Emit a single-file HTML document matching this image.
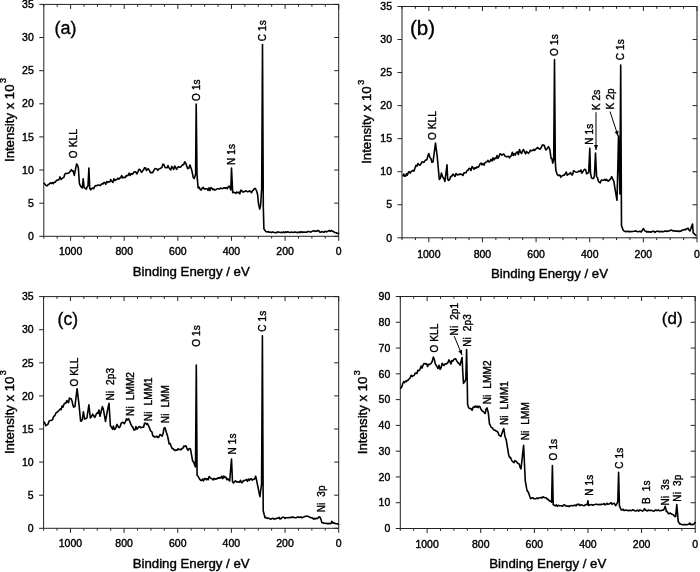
<!DOCTYPE html>
<html><head><meta charset="utf-8"><style>html,body{margin:0;padding:0;background:#fff;} svg{display:block;will-change:transform;filter:blur(0.3px);} text{stroke:#000;stroke-width:0.4px;}</style></head>
<body><svg width="700" height="572" viewBox="0 0 700 572" style="font-family:'Liberation Sans',sans-serif" fill="#000">
<rect width="700" height="572" fill="#fff"/>
<rect x="43.8" y="4.4" width="294.9" height="231.9" fill="none" stroke="#222" stroke-width="1"/>
<line x1="338.70" y1="236.3" x2="338.70" y2="240.8" stroke="#222" stroke-width="1"/>
<line x1="338.70" y1="4.4" x2="338.70" y2="8.9" stroke="#222" stroke-width="1"/>
<text x="338.70" y="254.90" font-size="10.5" text-anchor="middle">0</text>
<line x1="325.30" y1="236.3" x2="325.30" y2="238.60000000000002" stroke="#222" stroke-width="1"/>
<line x1="325.30" y1="4.4" x2="325.30" y2="6.7" stroke="#222" stroke-width="1"/>
<line x1="311.89" y1="236.3" x2="311.89" y2="238.60000000000002" stroke="#222" stroke-width="1"/>
<line x1="311.89" y1="4.4" x2="311.89" y2="6.7" stroke="#222" stroke-width="1"/>
<line x1="298.49" y1="236.3" x2="298.49" y2="238.60000000000002" stroke="#222" stroke-width="1"/>
<line x1="298.49" y1="4.4" x2="298.49" y2="6.7" stroke="#222" stroke-width="1"/>
<line x1="285.08" y1="236.3" x2="285.08" y2="240.8" stroke="#222" stroke-width="1"/>
<line x1="285.08" y1="4.4" x2="285.08" y2="8.9" stroke="#222" stroke-width="1"/>
<text x="285.08" y="254.90" font-size="10.5" text-anchor="middle">200</text>
<line x1="271.68" y1="236.3" x2="271.68" y2="238.60000000000002" stroke="#222" stroke-width="1"/>
<line x1="271.68" y1="4.4" x2="271.68" y2="6.7" stroke="#222" stroke-width="1"/>
<line x1="258.27" y1="236.3" x2="258.27" y2="238.60000000000002" stroke="#222" stroke-width="1"/>
<line x1="258.27" y1="4.4" x2="258.27" y2="6.7" stroke="#222" stroke-width="1"/>
<line x1="244.87" y1="236.3" x2="244.87" y2="238.60000000000002" stroke="#222" stroke-width="1"/>
<line x1="244.87" y1="4.4" x2="244.87" y2="6.7" stroke="#222" stroke-width="1"/>
<line x1="231.46" y1="236.3" x2="231.46" y2="240.8" stroke="#222" stroke-width="1"/>
<line x1="231.46" y1="4.4" x2="231.46" y2="8.9" stroke="#222" stroke-width="1"/>
<text x="231.46" y="254.90" font-size="10.5" text-anchor="middle">400</text>
<line x1="218.06" y1="236.3" x2="218.06" y2="238.60000000000002" stroke="#222" stroke-width="1"/>
<line x1="218.06" y1="4.4" x2="218.06" y2="6.7" stroke="#222" stroke-width="1"/>
<line x1="204.65" y1="236.3" x2="204.65" y2="238.60000000000002" stroke="#222" stroke-width="1"/>
<line x1="204.65" y1="4.4" x2="204.65" y2="6.7" stroke="#222" stroke-width="1"/>
<line x1="191.25" y1="236.3" x2="191.25" y2="238.60000000000002" stroke="#222" stroke-width="1"/>
<line x1="191.25" y1="4.4" x2="191.25" y2="6.7" stroke="#222" stroke-width="1"/>
<line x1="177.85" y1="236.3" x2="177.85" y2="240.8" stroke="#222" stroke-width="1"/>
<line x1="177.85" y1="4.4" x2="177.85" y2="8.9" stroke="#222" stroke-width="1"/>
<text x="177.85" y="254.90" font-size="10.5" text-anchor="middle">600</text>
<line x1="164.44" y1="236.3" x2="164.44" y2="238.60000000000002" stroke="#222" stroke-width="1"/>
<line x1="164.44" y1="4.4" x2="164.44" y2="6.7" stroke="#222" stroke-width="1"/>
<line x1="151.04" y1="236.3" x2="151.04" y2="238.60000000000002" stroke="#222" stroke-width="1"/>
<line x1="151.04" y1="4.4" x2="151.04" y2="6.7" stroke="#222" stroke-width="1"/>
<line x1="137.63" y1="236.3" x2="137.63" y2="238.60000000000002" stroke="#222" stroke-width="1"/>
<line x1="137.63" y1="4.4" x2="137.63" y2="6.7" stroke="#222" stroke-width="1"/>
<line x1="124.23" y1="236.3" x2="124.23" y2="240.8" stroke="#222" stroke-width="1"/>
<line x1="124.23" y1="4.4" x2="124.23" y2="8.9" stroke="#222" stroke-width="1"/>
<text x="124.23" y="254.90" font-size="10.5" text-anchor="middle">800</text>
<line x1="110.82" y1="236.3" x2="110.82" y2="238.60000000000002" stroke="#222" stroke-width="1"/>
<line x1="110.82" y1="4.4" x2="110.82" y2="6.7" stroke="#222" stroke-width="1"/>
<line x1="97.42" y1="236.3" x2="97.42" y2="238.60000000000002" stroke="#222" stroke-width="1"/>
<line x1="97.42" y1="4.4" x2="97.42" y2="6.7" stroke="#222" stroke-width="1"/>
<line x1="84.01" y1="236.3" x2="84.01" y2="238.60000000000002" stroke="#222" stroke-width="1"/>
<line x1="84.01" y1="4.4" x2="84.01" y2="6.7" stroke="#222" stroke-width="1"/>
<line x1="70.61" y1="236.3" x2="70.61" y2="240.8" stroke="#222" stroke-width="1"/>
<line x1="70.61" y1="4.4" x2="70.61" y2="8.9" stroke="#222" stroke-width="1"/>
<text x="70.61" y="254.90" font-size="10.5" text-anchor="middle">1000</text>
<line x1="57.20" y1="236.3" x2="57.20" y2="238.60000000000002" stroke="#222" stroke-width="1"/>
<line x1="57.20" y1="4.4" x2="57.20" y2="6.7" stroke="#222" stroke-width="1"/>
<line x1="43.80" y1="236.3" x2="43.80" y2="238.60000000000002" stroke="#222" stroke-width="1"/>
<line x1="43.80" y1="4.4" x2="43.80" y2="6.7" stroke="#222" stroke-width="1"/>
<line x1="39.3" y1="236.30" x2="43.8" y2="236.30" stroke="#222" stroke-width="1"/>
<line x1="334.2" y1="236.30" x2="338.7" y2="236.30" stroke="#222" stroke-width="1"/>
<text x="33.80" y="240.00" font-size="10.5" text-anchor="end">0</text>
<line x1="39.3" y1="203.17" x2="43.8" y2="203.17" stroke="#222" stroke-width="1"/>
<line x1="334.2" y1="203.17" x2="338.7" y2="203.17" stroke="#222" stroke-width="1"/>
<text x="33.80" y="206.87" font-size="10.5" text-anchor="end">5</text>
<line x1="39.3" y1="170.04" x2="43.8" y2="170.04" stroke="#222" stroke-width="1"/>
<line x1="334.2" y1="170.04" x2="338.7" y2="170.04" stroke="#222" stroke-width="1"/>
<text x="33.80" y="173.74" font-size="10.5" text-anchor="end">10</text>
<line x1="39.3" y1="136.91" x2="43.8" y2="136.91" stroke="#222" stroke-width="1"/>
<line x1="334.2" y1="136.91" x2="338.7" y2="136.91" stroke="#222" stroke-width="1"/>
<text x="33.80" y="140.61" font-size="10.5" text-anchor="end">15</text>
<line x1="39.3" y1="103.79" x2="43.8" y2="103.79" stroke="#222" stroke-width="1"/>
<line x1="334.2" y1="103.79" x2="338.7" y2="103.79" stroke="#222" stroke-width="1"/>
<text x="33.80" y="107.49" font-size="10.5" text-anchor="end">20</text>
<line x1="39.3" y1="70.66" x2="43.8" y2="70.66" stroke="#222" stroke-width="1"/>
<line x1="334.2" y1="70.66" x2="338.7" y2="70.66" stroke="#222" stroke-width="1"/>
<text x="33.80" y="74.36" font-size="10.5" text-anchor="end">25</text>
<line x1="39.3" y1="37.53" x2="43.8" y2="37.53" stroke="#222" stroke-width="1"/>
<line x1="334.2" y1="37.53" x2="338.7" y2="37.53" stroke="#222" stroke-width="1"/>
<text x="33.80" y="41.23" font-size="10.5" text-anchor="end">30</text>
<line x1="39.3" y1="4.40" x2="43.8" y2="4.40" stroke="#222" stroke-width="1"/>
<line x1="334.2" y1="4.40" x2="338.7" y2="4.40" stroke="#222" stroke-width="1"/>
<text x="33.80" y="8.10" font-size="10.5" text-anchor="end">35</text>
<text x="191.25" y="276.00" font-size="13" text-anchor="middle" textLength="117" lengthAdjust="spacingAndGlyphs">Binding Energy / eV</text>
<text transform="translate(13.50,123.25) rotate(-90)" font-size="13" text-anchor="middle" textLength="77.5" lengthAdjust="spacingAndGlyphs">Intensity x 10</text>
<text transform="translate(6.40,83.05) rotate(-90)" font-size="9">3</text>
<rect x="402.0" y="6.5" width="295.0" height="231.3" fill="none" stroke="#222" stroke-width="1"/>
<line x1="697.00" y1="237.8" x2="697.00" y2="242.3" stroke="#222" stroke-width="1"/>
<line x1="697.00" y1="6.5" x2="697.00" y2="11.0" stroke="#222" stroke-width="1"/>
<text x="697.00" y="257.60" font-size="10.5" text-anchor="middle">0</text>
<line x1="683.59" y1="237.8" x2="683.59" y2="240.10000000000002" stroke="#222" stroke-width="1"/>
<line x1="683.59" y1="6.5" x2="683.59" y2="8.8" stroke="#222" stroke-width="1"/>
<line x1="670.18" y1="237.8" x2="670.18" y2="240.10000000000002" stroke="#222" stroke-width="1"/>
<line x1="670.18" y1="6.5" x2="670.18" y2="8.8" stroke="#222" stroke-width="1"/>
<line x1="656.77" y1="237.8" x2="656.77" y2="240.10000000000002" stroke="#222" stroke-width="1"/>
<line x1="656.77" y1="6.5" x2="656.77" y2="8.8" stroke="#222" stroke-width="1"/>
<line x1="643.36" y1="237.8" x2="643.36" y2="242.3" stroke="#222" stroke-width="1"/>
<line x1="643.36" y1="6.5" x2="643.36" y2="11.0" stroke="#222" stroke-width="1"/>
<text x="643.36" y="257.60" font-size="10.5" text-anchor="middle">200</text>
<line x1="629.95" y1="237.8" x2="629.95" y2="240.10000000000002" stroke="#222" stroke-width="1"/>
<line x1="629.95" y1="6.5" x2="629.95" y2="8.8" stroke="#222" stroke-width="1"/>
<line x1="616.55" y1="237.8" x2="616.55" y2="240.10000000000002" stroke="#222" stroke-width="1"/>
<line x1="616.55" y1="6.5" x2="616.55" y2="8.8" stroke="#222" stroke-width="1"/>
<line x1="603.14" y1="237.8" x2="603.14" y2="240.10000000000002" stroke="#222" stroke-width="1"/>
<line x1="603.14" y1="6.5" x2="603.14" y2="8.8" stroke="#222" stroke-width="1"/>
<line x1="589.73" y1="237.8" x2="589.73" y2="242.3" stroke="#222" stroke-width="1"/>
<line x1="589.73" y1="6.5" x2="589.73" y2="11.0" stroke="#222" stroke-width="1"/>
<text x="589.73" y="257.60" font-size="10.5" text-anchor="middle">400</text>
<line x1="576.32" y1="237.8" x2="576.32" y2="240.10000000000002" stroke="#222" stroke-width="1"/>
<line x1="576.32" y1="6.5" x2="576.32" y2="8.8" stroke="#222" stroke-width="1"/>
<line x1="562.91" y1="237.8" x2="562.91" y2="240.10000000000002" stroke="#222" stroke-width="1"/>
<line x1="562.91" y1="6.5" x2="562.91" y2="8.8" stroke="#222" stroke-width="1"/>
<line x1="549.50" y1="237.8" x2="549.50" y2="240.10000000000002" stroke="#222" stroke-width="1"/>
<line x1="549.50" y1="6.5" x2="549.50" y2="8.8" stroke="#222" stroke-width="1"/>
<line x1="536.09" y1="237.8" x2="536.09" y2="242.3" stroke="#222" stroke-width="1"/>
<line x1="536.09" y1="6.5" x2="536.09" y2="11.0" stroke="#222" stroke-width="1"/>
<text x="536.09" y="257.60" font-size="10.5" text-anchor="middle">600</text>
<line x1="522.68" y1="237.8" x2="522.68" y2="240.10000000000002" stroke="#222" stroke-width="1"/>
<line x1="522.68" y1="6.5" x2="522.68" y2="8.8" stroke="#222" stroke-width="1"/>
<line x1="509.27" y1="237.8" x2="509.27" y2="240.10000000000002" stroke="#222" stroke-width="1"/>
<line x1="509.27" y1="6.5" x2="509.27" y2="8.8" stroke="#222" stroke-width="1"/>
<line x1="495.86" y1="237.8" x2="495.86" y2="240.10000000000002" stroke="#222" stroke-width="1"/>
<line x1="495.86" y1="6.5" x2="495.86" y2="8.8" stroke="#222" stroke-width="1"/>
<line x1="482.45" y1="237.8" x2="482.45" y2="242.3" stroke="#222" stroke-width="1"/>
<line x1="482.45" y1="6.5" x2="482.45" y2="11.0" stroke="#222" stroke-width="1"/>
<text x="482.45" y="257.60" font-size="10.5" text-anchor="middle">800</text>
<line x1="469.05" y1="237.8" x2="469.05" y2="240.10000000000002" stroke="#222" stroke-width="1"/>
<line x1="469.05" y1="6.5" x2="469.05" y2="8.8" stroke="#222" stroke-width="1"/>
<line x1="455.64" y1="237.8" x2="455.64" y2="240.10000000000002" stroke="#222" stroke-width="1"/>
<line x1="455.64" y1="6.5" x2="455.64" y2="8.8" stroke="#222" stroke-width="1"/>
<line x1="442.23" y1="237.8" x2="442.23" y2="240.10000000000002" stroke="#222" stroke-width="1"/>
<line x1="442.23" y1="6.5" x2="442.23" y2="8.8" stroke="#222" stroke-width="1"/>
<line x1="428.82" y1="237.8" x2="428.82" y2="242.3" stroke="#222" stroke-width="1"/>
<line x1="428.82" y1="6.5" x2="428.82" y2="11.0" stroke="#222" stroke-width="1"/>
<text x="428.82" y="257.60" font-size="10.5" text-anchor="middle">1000</text>
<line x1="415.41" y1="237.8" x2="415.41" y2="240.10000000000002" stroke="#222" stroke-width="1"/>
<line x1="415.41" y1="6.5" x2="415.41" y2="8.8" stroke="#222" stroke-width="1"/>
<line x1="402.00" y1="237.8" x2="402.00" y2="240.10000000000002" stroke="#222" stroke-width="1"/>
<line x1="402.00" y1="6.5" x2="402.00" y2="8.8" stroke="#222" stroke-width="1"/>
<line x1="397.5" y1="237.80" x2="402.0" y2="237.80" stroke="#222" stroke-width="1"/>
<line x1="692.5" y1="237.80" x2="697.0" y2="237.80" stroke="#222" stroke-width="1"/>
<text x="392.00" y="241.50" font-size="10.5" text-anchor="end">0</text>
<line x1="397.5" y1="204.76" x2="402.0" y2="204.76" stroke="#222" stroke-width="1"/>
<line x1="692.5" y1="204.76" x2="697.0" y2="204.76" stroke="#222" stroke-width="1"/>
<text x="392.00" y="208.46" font-size="10.5" text-anchor="end">5</text>
<line x1="397.5" y1="171.71" x2="402.0" y2="171.71" stroke="#222" stroke-width="1"/>
<line x1="692.5" y1="171.71" x2="697.0" y2="171.71" stroke="#222" stroke-width="1"/>
<text x="392.00" y="175.41" font-size="10.5" text-anchor="end">10</text>
<line x1="397.5" y1="138.67" x2="402.0" y2="138.67" stroke="#222" stroke-width="1"/>
<line x1="692.5" y1="138.67" x2="697.0" y2="138.67" stroke="#222" stroke-width="1"/>
<text x="392.00" y="142.37" font-size="10.5" text-anchor="end">15</text>
<line x1="397.5" y1="105.63" x2="402.0" y2="105.63" stroke="#222" stroke-width="1"/>
<line x1="692.5" y1="105.63" x2="697.0" y2="105.63" stroke="#222" stroke-width="1"/>
<text x="392.00" y="109.33" font-size="10.5" text-anchor="end">20</text>
<line x1="397.5" y1="72.59" x2="402.0" y2="72.59" stroke="#222" stroke-width="1"/>
<line x1="692.5" y1="72.59" x2="697.0" y2="72.59" stroke="#222" stroke-width="1"/>
<text x="392.00" y="76.29" font-size="10.5" text-anchor="end">25</text>
<line x1="397.5" y1="39.54" x2="402.0" y2="39.54" stroke="#222" stroke-width="1"/>
<line x1="692.5" y1="39.54" x2="697.0" y2="39.54" stroke="#222" stroke-width="1"/>
<text x="392.00" y="43.24" font-size="10.5" text-anchor="end">30</text>
<line x1="397.5" y1="6.50" x2="402.0" y2="6.50" stroke="#222" stroke-width="1"/>
<line x1="692.5" y1="6.50" x2="697.0" y2="6.50" stroke="#222" stroke-width="1"/>
<text x="392.00" y="10.20" font-size="10.5" text-anchor="end">35</text>
<text x="549.50" y="277.50" font-size="13" text-anchor="middle" textLength="117" lengthAdjust="spacingAndGlyphs">Binding Energy / eV</text>
<text transform="translate(371.30,125.05) rotate(-90)" font-size="13" text-anchor="middle" textLength="77.5" lengthAdjust="spacingAndGlyphs">Intensity x 10</text>
<text transform="translate(364.20,84.85) rotate(-90)" font-size="9">3</text>
<rect x="43.6" y="296.6" width="295.09999999999997" height="231.69999999999993" fill="none" stroke="#222" stroke-width="1"/>
<line x1="338.70" y1="528.3" x2="338.70" y2="532.8" stroke="#222" stroke-width="1"/>
<line x1="338.70" y1="296.6" x2="338.70" y2="301.1" stroke="#222" stroke-width="1"/>
<text x="338.70" y="547.40" font-size="10.5" text-anchor="middle">0</text>
<line x1="325.29" y1="528.3" x2="325.29" y2="530.5999999999999" stroke="#222" stroke-width="1"/>
<line x1="325.29" y1="296.6" x2="325.29" y2="298.90000000000003" stroke="#222" stroke-width="1"/>
<line x1="311.87" y1="528.3" x2="311.87" y2="530.5999999999999" stroke="#222" stroke-width="1"/>
<line x1="311.87" y1="296.6" x2="311.87" y2="298.90000000000003" stroke="#222" stroke-width="1"/>
<line x1="298.46" y1="528.3" x2="298.46" y2="530.5999999999999" stroke="#222" stroke-width="1"/>
<line x1="298.46" y1="296.6" x2="298.46" y2="298.90000000000003" stroke="#222" stroke-width="1"/>
<line x1="285.05" y1="528.3" x2="285.05" y2="532.8" stroke="#222" stroke-width="1"/>
<line x1="285.05" y1="296.6" x2="285.05" y2="301.1" stroke="#222" stroke-width="1"/>
<text x="285.05" y="547.40" font-size="10.5" text-anchor="middle">200</text>
<line x1="271.63" y1="528.3" x2="271.63" y2="530.5999999999999" stroke="#222" stroke-width="1"/>
<line x1="271.63" y1="296.6" x2="271.63" y2="298.90000000000003" stroke="#222" stroke-width="1"/>
<line x1="258.22" y1="528.3" x2="258.22" y2="530.5999999999999" stroke="#222" stroke-width="1"/>
<line x1="258.22" y1="296.6" x2="258.22" y2="298.90000000000003" stroke="#222" stroke-width="1"/>
<line x1="244.80" y1="528.3" x2="244.80" y2="530.5999999999999" stroke="#222" stroke-width="1"/>
<line x1="244.80" y1="296.6" x2="244.80" y2="298.90000000000003" stroke="#222" stroke-width="1"/>
<line x1="231.39" y1="528.3" x2="231.39" y2="532.8" stroke="#222" stroke-width="1"/>
<line x1="231.39" y1="296.6" x2="231.39" y2="301.1" stroke="#222" stroke-width="1"/>
<text x="231.39" y="547.40" font-size="10.5" text-anchor="middle">400</text>
<line x1="217.98" y1="528.3" x2="217.98" y2="530.5999999999999" stroke="#222" stroke-width="1"/>
<line x1="217.98" y1="296.6" x2="217.98" y2="298.90000000000003" stroke="#222" stroke-width="1"/>
<line x1="204.56" y1="528.3" x2="204.56" y2="530.5999999999999" stroke="#222" stroke-width="1"/>
<line x1="204.56" y1="296.6" x2="204.56" y2="298.90000000000003" stroke="#222" stroke-width="1"/>
<line x1="191.15" y1="528.3" x2="191.15" y2="530.5999999999999" stroke="#222" stroke-width="1"/>
<line x1="191.15" y1="296.6" x2="191.15" y2="298.90000000000003" stroke="#222" stroke-width="1"/>
<line x1="177.74" y1="528.3" x2="177.74" y2="532.8" stroke="#222" stroke-width="1"/>
<line x1="177.74" y1="296.6" x2="177.74" y2="301.1" stroke="#222" stroke-width="1"/>
<text x="177.74" y="547.40" font-size="10.5" text-anchor="middle">600</text>
<line x1="164.32" y1="528.3" x2="164.32" y2="530.5999999999999" stroke="#222" stroke-width="1"/>
<line x1="164.32" y1="296.6" x2="164.32" y2="298.90000000000003" stroke="#222" stroke-width="1"/>
<line x1="150.91" y1="528.3" x2="150.91" y2="530.5999999999999" stroke="#222" stroke-width="1"/>
<line x1="150.91" y1="296.6" x2="150.91" y2="298.90000000000003" stroke="#222" stroke-width="1"/>
<line x1="137.50" y1="528.3" x2="137.50" y2="530.5999999999999" stroke="#222" stroke-width="1"/>
<line x1="137.50" y1="296.6" x2="137.50" y2="298.90000000000003" stroke="#222" stroke-width="1"/>
<line x1="124.08" y1="528.3" x2="124.08" y2="532.8" stroke="#222" stroke-width="1"/>
<line x1="124.08" y1="296.6" x2="124.08" y2="301.1" stroke="#222" stroke-width="1"/>
<text x="124.08" y="547.40" font-size="10.5" text-anchor="middle">800</text>
<line x1="110.67" y1="528.3" x2="110.67" y2="530.5999999999999" stroke="#222" stroke-width="1"/>
<line x1="110.67" y1="296.6" x2="110.67" y2="298.90000000000003" stroke="#222" stroke-width="1"/>
<line x1="97.25" y1="528.3" x2="97.25" y2="530.5999999999999" stroke="#222" stroke-width="1"/>
<line x1="97.25" y1="296.6" x2="97.25" y2="298.90000000000003" stroke="#222" stroke-width="1"/>
<line x1="83.84" y1="528.3" x2="83.84" y2="530.5999999999999" stroke="#222" stroke-width="1"/>
<line x1="83.84" y1="296.6" x2="83.84" y2="298.90000000000003" stroke="#222" stroke-width="1"/>
<line x1="70.43" y1="528.3" x2="70.43" y2="532.8" stroke="#222" stroke-width="1"/>
<line x1="70.43" y1="296.6" x2="70.43" y2="301.1" stroke="#222" stroke-width="1"/>
<text x="70.43" y="547.40" font-size="10.5" text-anchor="middle">1000</text>
<line x1="57.01" y1="528.3" x2="57.01" y2="530.5999999999999" stroke="#222" stroke-width="1"/>
<line x1="57.01" y1="296.6" x2="57.01" y2="298.90000000000003" stroke="#222" stroke-width="1"/>
<line x1="43.60" y1="528.3" x2="43.60" y2="530.5999999999999" stroke="#222" stroke-width="1"/>
<line x1="43.60" y1="296.6" x2="43.60" y2="298.90000000000003" stroke="#222" stroke-width="1"/>
<line x1="39.1" y1="528.30" x2="43.6" y2="528.30" stroke="#222" stroke-width="1"/>
<line x1="334.2" y1="528.30" x2="338.7" y2="528.30" stroke="#222" stroke-width="1"/>
<text x="33.60" y="532.00" font-size="10.5" text-anchor="end">0</text>
<line x1="39.1" y1="495.20" x2="43.6" y2="495.20" stroke="#222" stroke-width="1"/>
<line x1="334.2" y1="495.20" x2="338.7" y2="495.20" stroke="#222" stroke-width="1"/>
<text x="33.60" y="498.90" font-size="10.5" text-anchor="end">5</text>
<line x1="39.1" y1="462.10" x2="43.6" y2="462.10" stroke="#222" stroke-width="1"/>
<line x1="334.2" y1="462.10" x2="338.7" y2="462.10" stroke="#222" stroke-width="1"/>
<text x="33.60" y="465.80" font-size="10.5" text-anchor="end">10</text>
<line x1="39.1" y1="429.00" x2="43.6" y2="429.00" stroke="#222" stroke-width="1"/>
<line x1="334.2" y1="429.00" x2="338.7" y2="429.00" stroke="#222" stroke-width="1"/>
<text x="33.60" y="432.70" font-size="10.5" text-anchor="end">15</text>
<line x1="39.1" y1="395.90" x2="43.6" y2="395.90" stroke="#222" stroke-width="1"/>
<line x1="334.2" y1="395.90" x2="338.7" y2="395.90" stroke="#222" stroke-width="1"/>
<text x="33.60" y="399.60" font-size="10.5" text-anchor="end">20</text>
<line x1="39.1" y1="362.80" x2="43.6" y2="362.80" stroke="#222" stroke-width="1"/>
<line x1="334.2" y1="362.80" x2="338.7" y2="362.80" stroke="#222" stroke-width="1"/>
<text x="33.60" y="366.50" font-size="10.5" text-anchor="end">25</text>
<line x1="39.1" y1="329.70" x2="43.6" y2="329.70" stroke="#222" stroke-width="1"/>
<line x1="334.2" y1="329.70" x2="338.7" y2="329.70" stroke="#222" stroke-width="1"/>
<text x="33.60" y="333.40" font-size="10.5" text-anchor="end">30</text>
<line x1="39.1" y1="296.60" x2="43.6" y2="296.60" stroke="#222" stroke-width="1"/>
<line x1="334.2" y1="296.60" x2="338.7" y2="296.60" stroke="#222" stroke-width="1"/>
<text x="33.60" y="300.30" font-size="10.5" text-anchor="end">35</text>
<text x="191.15" y="568.00" font-size="13" text-anchor="middle" textLength="117" lengthAdjust="spacingAndGlyphs">Binding Energy / eV</text>
<text transform="translate(13.50,415.35) rotate(-90)" font-size="13" text-anchor="middle" textLength="77.5" lengthAdjust="spacingAndGlyphs">Intensity x 10</text>
<text transform="translate(6.40,375.15) rotate(-90)" font-size="9">3</text>
<rect x="400.3" y="296.5" width="294.90000000000003" height="232.0" fill="none" stroke="#222" stroke-width="1"/>
<line x1="695.20" y1="528.5" x2="695.20" y2="533.0" stroke="#222" stroke-width="1"/>
<line x1="695.20" y1="296.5" x2="695.20" y2="301.0" stroke="#222" stroke-width="1"/>
<text x="695.20" y="547.90" font-size="10.5" text-anchor="middle">0</text>
<line x1="681.80" y1="528.5" x2="681.80" y2="530.8" stroke="#222" stroke-width="1"/>
<line x1="681.80" y1="296.5" x2="681.80" y2="298.8" stroke="#222" stroke-width="1"/>
<line x1="668.39" y1="528.5" x2="668.39" y2="530.8" stroke="#222" stroke-width="1"/>
<line x1="668.39" y1="296.5" x2="668.39" y2="298.8" stroke="#222" stroke-width="1"/>
<line x1="654.99" y1="528.5" x2="654.99" y2="530.8" stroke="#222" stroke-width="1"/>
<line x1="654.99" y1="296.5" x2="654.99" y2="298.8" stroke="#222" stroke-width="1"/>
<line x1="641.58" y1="528.5" x2="641.58" y2="533.0" stroke="#222" stroke-width="1"/>
<line x1="641.58" y1="296.5" x2="641.58" y2="301.0" stroke="#222" stroke-width="1"/>
<text x="641.58" y="547.90" font-size="10.5" text-anchor="middle">200</text>
<line x1="628.18" y1="528.5" x2="628.18" y2="530.8" stroke="#222" stroke-width="1"/>
<line x1="628.18" y1="296.5" x2="628.18" y2="298.8" stroke="#222" stroke-width="1"/>
<line x1="614.77" y1="528.5" x2="614.77" y2="530.8" stroke="#222" stroke-width="1"/>
<line x1="614.77" y1="296.5" x2="614.77" y2="298.8" stroke="#222" stroke-width="1"/>
<line x1="601.37" y1="528.5" x2="601.37" y2="530.8" stroke="#222" stroke-width="1"/>
<line x1="601.37" y1="296.5" x2="601.37" y2="298.8" stroke="#222" stroke-width="1"/>
<line x1="587.96" y1="528.5" x2="587.96" y2="533.0" stroke="#222" stroke-width="1"/>
<line x1="587.96" y1="296.5" x2="587.96" y2="301.0" stroke="#222" stroke-width="1"/>
<text x="587.96" y="547.90" font-size="10.5" text-anchor="middle">400</text>
<line x1="574.56" y1="528.5" x2="574.56" y2="530.8" stroke="#222" stroke-width="1"/>
<line x1="574.56" y1="296.5" x2="574.56" y2="298.8" stroke="#222" stroke-width="1"/>
<line x1="561.15" y1="528.5" x2="561.15" y2="530.8" stroke="#222" stroke-width="1"/>
<line x1="561.15" y1="296.5" x2="561.15" y2="298.8" stroke="#222" stroke-width="1"/>
<line x1="547.75" y1="528.5" x2="547.75" y2="530.8" stroke="#222" stroke-width="1"/>
<line x1="547.75" y1="296.5" x2="547.75" y2="298.8" stroke="#222" stroke-width="1"/>
<line x1="534.35" y1="528.5" x2="534.35" y2="533.0" stroke="#222" stroke-width="1"/>
<line x1="534.35" y1="296.5" x2="534.35" y2="301.0" stroke="#222" stroke-width="1"/>
<text x="534.35" y="547.90" font-size="10.5" text-anchor="middle">600</text>
<line x1="520.94" y1="528.5" x2="520.94" y2="530.8" stroke="#222" stroke-width="1"/>
<line x1="520.94" y1="296.5" x2="520.94" y2="298.8" stroke="#222" stroke-width="1"/>
<line x1="507.54" y1="528.5" x2="507.54" y2="530.8" stroke="#222" stroke-width="1"/>
<line x1="507.54" y1="296.5" x2="507.54" y2="298.8" stroke="#222" stroke-width="1"/>
<line x1="494.13" y1="528.5" x2="494.13" y2="530.8" stroke="#222" stroke-width="1"/>
<line x1="494.13" y1="296.5" x2="494.13" y2="298.8" stroke="#222" stroke-width="1"/>
<line x1="480.73" y1="528.5" x2="480.73" y2="533.0" stroke="#222" stroke-width="1"/>
<line x1="480.73" y1="296.5" x2="480.73" y2="301.0" stroke="#222" stroke-width="1"/>
<text x="480.73" y="547.90" font-size="10.5" text-anchor="middle">800</text>
<line x1="467.32" y1="528.5" x2="467.32" y2="530.8" stroke="#222" stroke-width="1"/>
<line x1="467.32" y1="296.5" x2="467.32" y2="298.8" stroke="#222" stroke-width="1"/>
<line x1="453.92" y1="528.5" x2="453.92" y2="530.8" stroke="#222" stroke-width="1"/>
<line x1="453.92" y1="296.5" x2="453.92" y2="298.8" stroke="#222" stroke-width="1"/>
<line x1="440.51" y1="528.5" x2="440.51" y2="530.8" stroke="#222" stroke-width="1"/>
<line x1="440.51" y1="296.5" x2="440.51" y2="298.8" stroke="#222" stroke-width="1"/>
<line x1="427.11" y1="528.5" x2="427.11" y2="533.0" stroke="#222" stroke-width="1"/>
<line x1="427.11" y1="296.5" x2="427.11" y2="301.0" stroke="#222" stroke-width="1"/>
<text x="427.11" y="547.90" font-size="10.5" text-anchor="middle">1000</text>
<line x1="413.70" y1="528.5" x2="413.70" y2="530.8" stroke="#222" stroke-width="1"/>
<line x1="413.70" y1="296.5" x2="413.70" y2="298.8" stroke="#222" stroke-width="1"/>
<line x1="400.30" y1="528.5" x2="400.30" y2="530.8" stroke="#222" stroke-width="1"/>
<line x1="400.30" y1="296.5" x2="400.30" y2="298.8" stroke="#222" stroke-width="1"/>
<line x1="395.8" y1="528.50" x2="400.3" y2="528.50" stroke="#222" stroke-width="1"/>
<line x1="690.7" y1="528.50" x2="695.2" y2="528.50" stroke="#222" stroke-width="1"/>
<text x="390.30" y="532.20" font-size="10.5" text-anchor="end">0</text>
<line x1="395.8" y1="502.72" x2="400.3" y2="502.72" stroke="#222" stroke-width="1"/>
<line x1="690.7" y1="502.72" x2="695.2" y2="502.72" stroke="#222" stroke-width="1"/>
<text x="390.30" y="506.42" font-size="10.5" text-anchor="end">10</text>
<line x1="395.8" y1="476.94" x2="400.3" y2="476.94" stroke="#222" stroke-width="1"/>
<line x1="690.7" y1="476.94" x2="695.2" y2="476.94" stroke="#222" stroke-width="1"/>
<text x="390.30" y="480.64" font-size="10.5" text-anchor="end">20</text>
<line x1="395.8" y1="451.17" x2="400.3" y2="451.17" stroke="#222" stroke-width="1"/>
<line x1="690.7" y1="451.17" x2="695.2" y2="451.17" stroke="#222" stroke-width="1"/>
<text x="390.30" y="454.87" font-size="10.5" text-anchor="end">30</text>
<line x1="395.8" y1="425.39" x2="400.3" y2="425.39" stroke="#222" stroke-width="1"/>
<line x1="690.7" y1="425.39" x2="695.2" y2="425.39" stroke="#222" stroke-width="1"/>
<text x="390.30" y="429.09" font-size="10.5" text-anchor="end">40</text>
<line x1="395.8" y1="399.61" x2="400.3" y2="399.61" stroke="#222" stroke-width="1"/>
<line x1="690.7" y1="399.61" x2="695.2" y2="399.61" stroke="#222" stroke-width="1"/>
<text x="390.30" y="403.31" font-size="10.5" text-anchor="end">50</text>
<line x1="395.8" y1="373.83" x2="400.3" y2="373.83" stroke="#222" stroke-width="1"/>
<line x1="690.7" y1="373.83" x2="695.2" y2="373.83" stroke="#222" stroke-width="1"/>
<text x="390.30" y="377.53" font-size="10.5" text-anchor="end">60</text>
<line x1="395.8" y1="348.06" x2="400.3" y2="348.06" stroke="#222" stroke-width="1"/>
<line x1="690.7" y1="348.06" x2="695.2" y2="348.06" stroke="#222" stroke-width="1"/>
<text x="390.30" y="351.76" font-size="10.5" text-anchor="end">70</text>
<line x1="395.8" y1="322.28" x2="400.3" y2="322.28" stroke="#222" stroke-width="1"/>
<line x1="690.7" y1="322.28" x2="695.2" y2="322.28" stroke="#222" stroke-width="1"/>
<text x="390.30" y="325.98" font-size="10.5" text-anchor="end">80</text>
<line x1="395.8" y1="296.50" x2="400.3" y2="296.50" stroke="#222" stroke-width="1"/>
<line x1="690.7" y1="296.50" x2="695.2" y2="296.50" stroke="#222" stroke-width="1"/>
<text x="390.30" y="300.20" font-size="10.5" text-anchor="end">90</text>
<text x="547.75" y="568.20" font-size="13" text-anchor="middle" textLength="117" lengthAdjust="spacingAndGlyphs">Binding Energy / eV</text>
<text transform="translate(367.00,415.40) rotate(-90)" font-size="13" text-anchor="middle" textLength="77.5" lengthAdjust="spacingAndGlyphs">Intensity x 10</text>
<text transform="translate(359.90,375.20) rotate(-90)" font-size="9">3</text>
<polyline points="44.0,183.4 45.1,184.3 46.3,185.7 47.3,185.8 48.3,184.5 49.4,184.0 50.4,182.8 51.4,183.4 52.4,182.6 53.3,183.6 54.2,182.2 55.2,182.3 56.1,180.9 57.1,180.0 58.1,180.1 59.0,179.5 60.0,176.9 61.0,179.5 61.9,178.7 62.9,177.7 63.8,177.5 64.8,174.2 65.8,173.4 66.7,173.5 67.6,173.3 68.6,173.1 69.5,172.4 70.5,170.8 71.4,169.7 72.2,171.0 73.1,170.9 74.3,175.4 75.4,169.7 76.6,164.0 77.4,164.9 78.3,167.4 79.4,183.4 80.2,185.5 81.1,186.9 82.3,188.0 83.2,178.9 84.0,186.9 85.2,188.4 86.3,189.1 87.2,186.7 88.0,185.7 88.9,168.0 89.7,188.0 90.7,189.8 91.6,188.6 92.6,188.0 93.7,188.7 94.8,186.2 96.0,185.5 97.1,185.7 98.1,185.0 99.0,185.0 100.0,185.6 101.0,184.8 101.9,183.8 102.9,184.0 103.9,182.5 104.8,182.6 105.8,184.3 106.7,181.5 107.6,182.4 108.6,181.7 109.7,182.0 110.7,179.6 111.8,181.2 112.9,182.4 113.9,178.8 115.0,180.5 116.0,179.7 116.9,179.4 117.8,178.1 118.8,179.2 119.8,178.1 120.7,177.7 121.7,175.5 122.6,177.9 123.6,177.4 124.5,177.3 125.5,177.5 126.4,175.4 127.4,175.7 128.3,175.2 129.2,173.2 130.2,175.4 131.2,173.7 132.1,174.3 133.1,173.4 134.0,172.0 135.0,171.9 136.0,172.1 136.9,174.0 137.9,172.0 138.8,169.6 139.8,169.4 140.8,171.2 141.7,172.3 142.7,170.8 143.6,169.7 144.6,167.7 145.5,167.8 146.4,170.5 147.4,169.2 148.4,168.8 149.3,170.3 150.4,172.7 151.6,172.6 152.7,172.7 153.9,170.1 155.0,168.6 155.9,168.8 156.9,169.0 157.8,170.4 158.8,169.0 159.8,168.8 160.7,168.0 161.8,167.8 163.0,164.0 164.1,165.1 165.1,167.5 166.0,167.7 167.0,167.8 168.0,165.6 168.9,167.6 169.9,169.1 170.8,169.9 171.8,166.4 172.8,168.0 173.7,169.3 174.7,166.0 175.6,167.4 176.6,169.3 177.5,167.8 178.4,166.7 179.4,167.1 180.4,167.3 181.3,166.3 182.4,164.9 183.6,164.8 184.7,161.7 185.7,163.1 186.6,165.8 187.6,168.6 188.8,168.2 189.9,165.1 190.8,167.4 191.6,169.7 193.3,177.7 194.2,178.5 195.6,174.6 196.2,104.0 197.0,174.6 198.1,188.0 199.1,187.2 200.1,189.4 201.1,190.1 202.2,188.2 203.2,187.3 204.2,189.0 205.2,188.9 206.1,188.8 207.1,188.7 208.0,190.5 209.0,187.9 210.0,190.4 210.9,187.6 211.9,188.1 212.8,189.7 213.8,189.0 214.8,190.1 215.7,189.7 216.7,189.1 217.7,188.8 218.7,188.7 219.6,189.0 220.6,188.1 221.6,188.5 222.5,188.7 223.5,188.0 224.4,187.7 225.4,188.2 226.3,187.7 227.3,188.6 228.2,186.9 229.2,186.2 230.0,187.6 230.8,190.0 231.5,168.0 232.7,192.6 233.7,192.2 234.7,192.5 235.8,193.4 236.8,192.0 237.8,192.8 238.8,192.3 239.8,193.8 240.7,190.3 241.7,190.6 242.7,191.9 243.6,191.9 244.6,191.6 245.5,190.7 246.5,191.0 247.5,191.8 248.5,191.5 249.5,190.8 250.5,191.5 251.5,192.7 252.6,190.7 253.6,189.8 254.5,188.6 255.4,188.5 256.6,191.0 257.6,194.4 258.4,203.0 259.7,209.1 260.6,205.5 261.7,188.3 262.5,44.5 263.3,206.7 263.9,228.7 264.9,230.2 265.8,231.7 266.7,231.8 267.6,232.0 268.5,231.6 269.4,232.3 270.4,232.1 271.4,232.6 272.5,231.9 273.5,232.3 274.5,232.6 275.5,232.6 276.6,232.8 277.6,231.8 278.6,232.2 279.6,232.2 280.7,232.5 281.7,232.3 282.7,232.6 283.7,231.8 284.8,232.6 285.8,231.8 286.8,232.4 287.8,231.7 288.9,232.2 289.9,232.6 290.9,232.1 291.9,232.2 293.0,232.4 294.0,232.2 295.0,232.1 296.0,232.1 297.0,232.6 298.0,232.4 299.0,232.0 300.0,232.6 301.0,231.7 302.0,232.4 303.0,232.0 304.0,232.1 305.0,232.3 306.0,232.1 307.0,232.2 308.0,231.5 309.0,231.5 310.0,232.0 311.0,232.0 312.0,231.3 313.0,231.0 314.0,230.7 315.0,231.5 316.0,231.1 317.0,231.2 318.0,230.4 319.0,231.0 320.0,232.3 321.0,232.1 322.1,231.6 323.1,232.1 324.1,232.2 325.2,231.2 326.2,231.9 327.3,231.6 328.3,231.0 329.3,230.3 330.4,231.3 331.4,230.6 332.3,231.0 333.1,231.3 334.0,232.0 335.1,232.5 336.2,232.8 337.4,233.5 338.5,233.4" fill="none" stroke="#000" stroke-width="1.6" stroke-linejoin="round" stroke-linecap="round"/>
<polyline points="402.9,175.9 403.8,174.1 404.6,176.3 405.5,176.2 406.4,173.8 407.3,175.2 408.3,172.6 409.2,171.5 410.1,173.2 411.1,171.6 412.0,171.0 413.0,170.3 414.0,171.1 415.0,168.0 416.0,165.3 417.0,166.1 418.0,163.5 419.0,164.8 420.0,165.2 421.0,163.8 422.0,161.9 423.0,162.0 424.0,162.4 425.0,160.7 426.0,159.9 426.9,159.7 427.9,155.6 428.8,153.6 429.9,157.5 430.9,158.5 431.9,162.3 433.0,162.0 435.5,143.1 437.2,156.4 439.3,179.4 440.4,178.2 441.4,173.1 442.8,177.3 443.9,178.6 444.9,181.5 447.0,164.8 447.7,179.4 448.7,180.5 449.7,179.4 450.8,176.4 451.9,176.0 452.9,174.2 454.0,175.2 455.0,176.4 456.0,173.5 457.0,174.9 458.0,174.6 459.0,174.7 460.0,173.9 461.0,174.5 462.0,174.2 463.0,175.4 464.0,172.8 465.0,172.8 466.0,172.8 467.0,170.6 468.0,170.3 469.0,168.3 470.0,168.8 471.0,170.5 472.0,166.6 473.0,167.6 474.0,169.3 475.0,167.6 476.0,168.2 477.0,166.8 478.0,167.5 479.0,166.2 480.0,164.0 481.0,163.1 482.0,164.8 483.0,163.5 484.0,165.2 485.0,162.8 486.0,162.0 487.0,161.7 488.0,160.3 489.0,162.0 490.0,161.3 491.0,159.4 492.0,161.0 493.0,157.7 494.0,160.0 495.0,158.1 496.0,158.5 497.0,155.6 498.0,158.3 499.0,156.3 500.0,153.8 501.0,154.3 502.0,155.3 503.0,154.3 503.9,154.0 504.9,156.1 505.8,156.4 506.7,156.7 507.7,156.5 508.6,156.4 509.5,157.8 510.5,156.4 511.4,155.6 512.3,152.2 513.3,155.4 514.2,153.6 515.2,155.1 516.3,152.5 517.4,151.9 518.4,154.6 519.5,149.5 520.5,152.2 521.6,153.5 522.6,150.8 523.6,149.6 524.6,152.2 525.6,153.8 526.5,151.4 527.5,152.6 528.5,153.3 529.5,152.2 530.5,150.2 531.6,150.7 532.7,150.5 533.7,149.4 534.6,150.5 535.6,149.1 536.5,148.8 537.4,147.4 538.4,148.3 539.3,148.7 540.3,149.2 541.4,147.1 542.5,144.8 543.5,145.2 544.2,145.3 545.0,147.9 545.9,150.0 546.8,149.0 547.6,147.9 548.5,146.6 549.8,149.6 551.1,158.4 551.9,158.6 552.7,163.2 553.7,160.1 554.5,59.6 555.3,161.9 555.9,170.6 557.2,174.5 558.1,175.4 559.0,175.4 559.9,175.0 560.8,177.3 561.6,176.1 562.5,175.8 563.4,175.1 564.2,175.3 565.1,174.1 566.2,172.0 567.3,175.2 568.4,174.2 569.5,173.7 570.5,172.5 571.5,174.8 572.5,174.9 573.6,170.7 574.6,171.4 575.6,171.9 576.7,172.2 577.8,171.9 578.9,171.1 580.0,171.5 580.9,170.0 581.8,173.1 582.6,172.2 583.5,170.6 584.5,169.4 585.6,169.6 586.6,173.7 587.7,173.2 588.7,172.3 589.8,148.3 590.5,173.2 591.5,177.9 592.6,178.5 593.5,178.4 594.4,176.3 595.5,153.1 596.6,176.7 597.5,177.8 598.3,181.1 599.3,182.3 600.3,182.8 601.4,180.0 602.5,180.2 603.6,180.1 604.7,179.3 605.6,180.4 606.5,179.3 607.3,180.5 608.2,181.1 609.1,180.5 610.0,179.4 610.8,178.6 611.7,176.7 612.8,179.2 613.8,181.1 615.6,192.4 617.0,200.3 617.8,168.0 618.5,136.0 619.9,194.0 620.7,65.0 621.5,225.7 622.3,227.7 623.1,230.0 624.0,230.9 624.8,231.2 625.7,231.8 626.7,231.4 627.8,231.4 628.8,231.6 629.8,231.5 630.9,231.6 631.9,231.5 632.9,231.5 634.0,231.3 635.0,231.3 636.0,230.8 637.0,231.5 638.0,231.7 639.0,231.5 640.0,231.3 641.2,232.0 642.4,230.2 643.5,228.5 644.2,229.9 645.0,231.0 646.0,231.2 647.0,232.2 648.0,231.5 649.0,232.1 650.0,231.7 651.0,232.3 652.0,231.5 653.0,231.3 654.0,231.4 655.0,232.4 656.0,231.6 657.0,231.1 658.0,231.3 659.0,231.8 660.0,231.5 661.0,231.6 662.0,231.4 663.0,231.8 664.0,231.4 665.0,231.0 666.0,231.1 667.0,231.5 668.0,231.1 669.0,231.0 670.0,230.5 671.0,230.1 672.0,230.5 673.0,231.0 674.0,230.6 675.0,231.2 676.0,231.0 677.0,231.2 678.0,230.8 679.0,231.6 680.0,231.0 681.1,231.1 682.2,230.2 683.4,229.9 684.5,229.5 685.4,229.9 686.2,228.7 687.1,228.9 688.0,228.2 689.0,230.0 690.0,231.0 691.2,227.5 692.5,224.0 693.2,233.0 694.1,233.5 695.1,234.7 696.0,235.5" fill="none" stroke="#000" stroke-width="1.6" stroke-linejoin="round" stroke-linecap="round"/>
<polyline points="44.0,422.0 45.0,423.5 45.9,425.7 46.9,424.9 48.0,424.2 49.1,420.9 50.2,420.6 51.4,420.3 52.5,419.7 53.7,416.3 54.9,415.5 56.0,412.9 57.1,412.3 58.3,411.1 59.4,410.0 60.3,408.9 61.1,409.6 62.0,406.1 62.9,407.1 64.0,404.1 65.1,403.1 66.0,403.0 66.8,400.5 67.7,402.0 68.6,402.6 69.4,398.0 70.3,398.6 71.2,398.7 72.0,400.9 72.8,404.9 73.7,407.1 74.9,406.6 77.1,388.7 78.9,403.7 80.6,420.9 81.4,421.2 82.3,419.7 83.4,411.7 84.6,419.1 85.8,418.5 86.9,418.0 88.9,404.9 90.3,418.0 91.4,416.9 92.6,414.2 93.7,415.7 94.8,417.4 96.0,414.7 97.1,412.9 98.0,413.2 98.9,410.0 100.0,416.3 102.3,406.6 103.2,408.3 104.0,412.9 105.5,421.5 107.6,409.7 109.0,403.4 110.4,425.7 111.5,427.2 112.5,429.2 113.4,426.1 114.2,429.4 115.1,429.1 116.0,427.1 117.0,424.4 118.1,426.7 119.2,427.6 120.2,426.4 121.2,423.1 122.3,422.4 123.4,422.6 124.4,423.6 125.5,421.4 126.5,418.9 127.5,420.0 128.6,418.7 129.7,421.2 130.7,423.9 131.8,426.1 132.8,427.1 133.9,430.0 134.9,430.0 135.9,426.6 137.0,429.2 137.9,428.1 138.9,426.8 139.8,426.5 140.7,427.7 141.7,427.5 142.6,427.1 143.6,427.2 144.5,423.2 145.5,423.0 146.4,424.3 147.4,423.6 148.3,425.4 149.3,427.3 150.2,429.9 151.1,431.4 151.9,431.9 152.8,435.7 153.7,436.2 154.8,437.1 155.8,436.8 156.8,436.2 157.9,437.6 158.9,437.0 160.0,434.5 161.1,435.1 162.1,436.2 163.1,433.4 164.0,428.1 165.0,427.6 165.9,430.8 166.7,433.6 167.6,436.2 169.2,444.0 170.2,443.6 171.3,446.8 172.3,448.7 173.2,448.6 174.2,450.0 175.1,450.5 176.1,449.9 177.0,450.3 177.9,448.8 178.9,449.5 179.8,449.2 180.8,450.0 181.7,448.7 182.8,448.3 183.8,446.1 184.9,446.4 185.9,445.8 187.0,448.5 188.0,450.3 189.2,448.5 190.4,448.7 192.7,461.3 193.6,461.7 194.6,464.8 195.5,466.8 196.3,365.0 197.1,475.5 198.3,476.5 199.4,478.8 200.6,480.2 201.5,480.5 202.5,479.1 203.4,481.0 204.4,478.6 205.3,478.6 206.3,479.8 207.2,478.6 208.2,479.7 209.2,476.5 210.1,477.5 211.1,478.5 212.1,478.8 213.1,479.9 214.0,478.4 215.0,479.4 216.0,478.8 216.9,478.9 217.9,477.8 218.9,478.3 219.9,477.4 220.9,478.1 221.9,476.2 222.8,478.6 223.8,476.1 224.8,477.4 225.8,477.0 226.8,479.8 227.8,478.7 228.7,479.9 229.7,480.9 231.5,459.0 232.5,481.7 233.5,482.9 234.5,481.7 235.6,480.8 236.6,482.0 237.6,481.7 238.6,482.1 239.6,482.1 240.5,480.3 241.5,482.7 242.5,482.5 243.4,480.5 244.4,480.6 245.4,480.1 246.4,479.5 247.4,481.4 248.4,479.0 249.4,480.4 250.3,479.1 251.3,478.7 252.3,480.2 253.3,479.3 254.5,479.2 255.7,476.2 258.0,487.2 259.9,496.6 261.6,484.0 262.4,335.7 263.2,510.8 264.1,514.3 265.1,517.8 266.1,517.6 267.1,518.4 268.1,518.1 269.2,518.4 270.2,519.1 271.2,519.0 272.2,518.6 273.2,518.3 274.2,519.3 275.1,518.5 276.1,518.8 277.1,518.0 278.1,518.3 279.1,517.4 280.0,519.0 281.0,518.8 282.0,517.5 283.0,517.3 284.0,517.2 285.0,518.5 285.9,517.7 286.9,517.8 287.9,517.8 288.9,517.6 289.9,517.7 290.9,517.1 291.9,517.6 292.9,516.9 293.9,517.5 295.0,517.7 296.0,517.7 297.0,517.3 298.0,516.9 299.0,517.4 300.0,517.3 301.0,516.9 302.0,517.9 303.0,517.4 303.9,516.8 304.9,516.5 305.9,516.3 306.9,516.1 307.9,516.5 308.9,516.6 309.9,517.3 310.8,517.7 311.8,517.7 312.8,518.3 313.8,519.1 314.7,518.3 315.7,518.9 316.8,518.2 317.8,518.4 318.9,516.9 319.9,517.1 320.8,518.9 322.0,522.8 322.9,522.7 323.8,523.1 324.8,523.3 325.7,523.5 326.6,523.4 327.5,523.6 328.5,523.6 329.4,523.4 330.4,523.6 331.4,523.2 331.8,521.2 333.0,523.2 333.9,522.8 334.8,523.3 335.8,523.8 336.7,523.7 337.6,523.9 338.5,524.4" fill="none" stroke="#000" stroke-width="1.6" stroke-linejoin="round" stroke-linecap="round"/>
<polyline points="400.7,388.4 401.8,386.8 402.8,383.5 403.7,381.7 404.6,382.7 405.5,381.0 406.4,381.6 407.2,380.4 408.1,380.2 409.0,379.0 410.1,378.0 411.1,375.3 412.1,376.5 413.2,375.7 414.1,375.5 415.1,373.3 416.0,373.1 416.9,373.5 417.9,370.3 418.8,370.8 420.0,369.4 421.1,366.1 422.1,368.1 423.0,365.2 423.9,363.6 424.8,363.6 425.7,364.0 426.6,363.7 427.6,366.5 428.5,364.3 429.7,364.4 430.9,363.6 432.1,361.7 433.4,357.0 434.3,359.2 435.2,363.6 436.1,365.2 437.1,366.9 438.0,368.5 439.0,365.3 440.1,369.2 441.1,367.7 442.2,363.2 443.2,364.9 444.2,365.5 445.1,363.7 446.1,364.1 447.0,363.5 448.0,362.4 449.0,359.9 450.0,361.6 450.9,364.0 451.9,360.6 452.9,361.2 453.8,359.5 454.8,358.8 455.7,358.9 456.6,360.6 457.9,362.6 459.1,363.6 460.0,365.2 460.9,361.8 462.1,357.5 462.8,372.2 463.5,383.4 464.6,381.9 465.8,379.2 466.6,349.6 467.2,380.0 467.6,404.3 468.7,407.9 469.9,408.6 471.1,408.6 472.1,410.3 473.2,407.1 474.2,407.3 475.2,406.0 476.2,407.2 477.2,406.1 478.1,407.6 479.0,406.3 480.0,406.9 480.9,409.2 482.1,410.8 483.4,411.6 484.3,412.9 485.2,413.5 486.1,409.0 487.0,407.9 488.3,412.8 489.5,423.9 490.4,425.5 491.3,427.5 492.3,427.7 493.4,429.7 494.4,430.0 495.3,430.5 496.2,431.1 497.1,431.4 498.0,432.4 499.0,435.3 500.0,435.7 500.9,436.4 501.7,434.0 502.8,430.9 503.8,428.7 505.0,436.7 506.1,439.2 508.7,455.0 509.6,457.4 510.5,457.3 511.3,459.6 512.2,461.1 513.1,461.8 514.0,462.6 514.8,460.7 515.7,461.1 516.6,461.9 517.5,463.0 518.4,463.7 519.3,464.1 520.1,467.2 521.0,469.0 523.6,445.3 525.3,481.2 527.1,490.8 528.0,491.6 528.8,493.4 529.7,496.3 530.6,498.7 531.7,498.0 532.8,497.7 533.9,498.7 535.0,498.7 536.0,498.7 537.1,498.0 538.1,498.7 539.2,497.8 540.2,497.8 541.2,497.4 542.2,498.1 543.2,496.8 544.3,497.4 545.3,497.8 546.3,497.8 547.2,499.2 548.1,499.4 549.0,500.4 549.9,501.2 550.7,501.2 551.6,502.2 552.4,465.5 553.2,504.8 554.2,505.1 555.3,506.0 556.3,504.9 557.3,506.3 558.4,505.2 559.4,505.7 560.4,505.7 561.5,505.8 562.5,506.3 563.6,505.0 564.6,504.8 565.7,506.0 566.8,506.1 567.8,506.1 568.9,506.6 569.9,505.7 570.9,505.7 571.9,505.6 573.0,505.8 574.0,505.4 575.0,505.0 576.0,505.9 577.0,504.3 578.0,504.8 579.0,504.1 580.0,505.5 581.0,504.8 582.0,505.0 583.1,505.5 584.1,505.8 585.2,504.8 586.2,504.5 587.3,504.6 587.9,500.8 588.6,505.5 589.7,505.0 590.7,504.7 591.8,504.6 592.8,505.2 593.9,504.7 594.9,504.5 596.0,504.3 597.0,504.2 598.0,504.8 599.0,504.6 600.0,504.2 601.0,504.7 602.0,504.2 603.0,504.3 604.0,503.5 605.0,504.9 606.0,504.3 607.0,503.3 608.0,504.4 609.0,503.9 610.0,503.6 611.0,502.6 612.1,504.4 613.2,503.5 614.2,503.2 615.6,505.7 616.7,504.1 617.8,501.5 618.6,472.2 619.4,505.7 620.3,507.9 621.2,509.9 622.2,509.9 623.2,509.3 624.1,510.6 625.1,510.2 626.1,510.1 627.1,510.5 628.1,510.4 629.0,510.8 630.0,510.3 631.0,510.6 632.0,510.5 632.9,509.7 633.9,510.3 634.8,510.8 635.8,511.1 636.7,510.2 637.6,510.3 638.6,511.1 639.5,510.1 640.5,510.2 641.5,510.6 642.5,511.1 643.5,510.3 644.6,508.6 645.5,510.3 646.4,510.3 647.3,511.0 648.2,510.0 649.2,510.5 650.1,510.3 651.0,510.4 652.0,510.5 653.1,511.0 654.1,511.2 655.2,510.1 656.2,510.1 657.3,510.7 658.4,509.9 659.4,510.6 660.5,510.7 661.5,510.4 662.5,510.1 663.6,510.0 664.4,508.4 665.2,506.3 666.4,511.5 667.2,511.6 668.0,513.2 669.0,513.8 670.0,513.0 671.0,513.6 672.0,514.2 672.9,514.6 673.8,515.2 674.7,516.4 675.6,516.6 676.8,504.6 678.2,521.4 679.0,522.7 679.8,524.0 680.8,524.0 681.7,524.4 682.7,524.7 683.6,524.5 684.6,524.6 685.6,524.6 686.7,524.7 687.8,524.4 688.8,524.2 689.6,523.0 690.5,524.6 691.5,524.2 692.5,524.8 693.5,524.3 694.2,523.8 695.0,522.5" fill="none" stroke="#000" stroke-width="1.6" stroke-linejoin="round" stroke-linecap="round"/>
<text x="65.55" y="33.82" font-size="18" text-anchor="middle" style="stroke-width:0.35px">(a)</text>
<text x="422.55" y="34.59" font-size="20.5" text-anchor="middle" style="stroke-width:0.35px">(b)</text>
<text x="67.80" y="324.72" font-size="17.5" text-anchor="middle" style="stroke-width:0.35px">(c)</text>
<text x="672.25" y="323.73" font-size="17" text-anchor="middle" style="stroke-width:0.35px">(d)</text>
<text transform="translate(77.09,143.68) rotate(-90)" font-size="10.0" letter-spacing="0.15" text-anchor="middle" style="white-space:pre">O KLL</text>
<text transform="translate(199.79,90.12) rotate(-90)" font-size="10.0" letter-spacing="0.15" text-anchor="middle" style="white-space:pre">O 1s</text>
<text transform="translate(234.99,154.47) rotate(-90)" font-size="10.0" letter-spacing="0.15" text-anchor="middle" style="white-space:pre">N 1s</text>
<text transform="translate(265.99,30.68) rotate(-90)" font-size="10.0" letter-spacing="0.15" text-anchor="middle" style="white-space:pre">C 1s</text>
<text transform="translate(435.89,125.57) rotate(-90)" font-size="10.0" letter-spacing="0.15" text-anchor="middle" style="white-space:pre">O KLL</text>
<text transform="translate(558.29,45.03) rotate(-90)" font-size="10.0" letter-spacing="0.15" text-anchor="middle" style="white-space:pre">O 1s</text>
<text transform="translate(624.29,49.67) rotate(-90)" font-size="10.0" letter-spacing="0.15" text-anchor="middle" style="white-space:pre">C 1s</text>
<text transform="translate(600.39,99.92) rotate(-90)" font-size="10.0" letter-spacing="0.15" text-anchor="middle" style="white-space:pre">K 2s</text>
<text transform="translate(593.39,134.23) rotate(-90)" font-size="10.0" letter-spacing="0.15" text-anchor="middle" style="white-space:pre">N 1s</text>
<text transform="translate(613.89,98.93) rotate(-90)" font-size="10.0" letter-spacing="0.15" text-anchor="middle" style="white-space:pre">K 2p</text>
<text transform="translate(77.59,372.02) rotate(-90)" font-size="10.0" letter-spacing="0.15" text-anchor="middle" style="white-space:pre">O KLL</text>
<text transform="translate(113.79,384.17) rotate(-90)" font-size="10.0" letter-spacing="0.15" text-anchor="middle" style="white-space:pre">Ni  2p3</text>
<text transform="translate(133.69,393.92) rotate(-90)" font-size="10.0" letter-spacing="0.15" text-anchor="middle" style="white-space:pre">Ni  LMM2</text>
<text transform="translate(151.89,399.18) rotate(-90)" font-size="10.0" letter-spacing="0.15" text-anchor="middle" style="white-space:pre">Ni  LMM1</text>
<text transform="translate(169.29,404.07) rotate(-90)" font-size="10.0" letter-spacing="0.15" text-anchor="middle" style="white-space:pre">Ni  LMM</text>
<text transform="translate(199.99,335.98) rotate(-90)" font-size="10.0" letter-spacing="0.15" text-anchor="middle" style="white-space:pre">O 1s</text>
<text transform="translate(235.99,443.98) rotate(-90)" font-size="10.0" letter-spacing="0.15" text-anchor="middle" style="white-space:pre">N 1s</text>
<text transform="translate(266.09,321.27) rotate(-90)" font-size="10.0" letter-spacing="0.15" text-anchor="middle" style="white-space:pre">C 1s</text>
<text transform="translate(324.89,498.77) rotate(-90)" font-size="10.0" letter-spacing="0.15" text-anchor="middle" style="white-space:pre">Ni  3p</text>
<text transform="translate(438.19,338.02) rotate(-90)" font-size="10.0" letter-spacing="0.15" text-anchor="middle" style="white-space:pre">O KLL</text>
<text transform="translate(457.79,319.08) rotate(-90)" font-size="10.0" letter-spacing="0.15" text-anchor="middle" style="white-space:pre">Ni  2p1</text>
<text transform="translate(470.59,330.38) rotate(-90)" font-size="10.0" letter-spacing="0.15" text-anchor="middle" style="white-space:pre">Ni  2p3</text>
<text transform="translate(491.29,382.32) rotate(-90)" font-size="10.0" letter-spacing="0.15" text-anchor="middle" style="white-space:pre">Ni  LMM2</text>
<text transform="translate(508.39,403.12) rotate(-90)" font-size="10.0" letter-spacing="0.15" text-anchor="middle" style="white-space:pre">Ni  LMM1</text>
<text transform="translate(528.59,421.17) rotate(-90)" font-size="10.0" letter-spacing="0.15" text-anchor="middle" style="white-space:pre">Ni  LMM</text>
<text transform="translate(556.89,449.62) rotate(-90)" font-size="10.0" letter-spacing="0.15" text-anchor="middle" style="white-space:pre">O 1s</text>
<text transform="translate(592.69,485.12) rotate(-90)" font-size="10.0" letter-spacing="0.15" text-anchor="middle" style="white-space:pre">N 1s</text>
<text transform="translate(623.49,458.23) rotate(-90)" font-size="10.0" letter-spacing="0.15" text-anchor="middle" style="white-space:pre">C 1s</text>
<text transform="translate(649.99,492.18) rotate(-90)" font-size="10.0" letter-spacing="0.15" text-anchor="middle" style="white-space:pre">B  1s</text>
<text transform="translate(668.89,492.38) rotate(-90)" font-size="10.0" letter-spacing="0.15" text-anchor="middle" style="white-space:pre">Ni  3s</text>
<text transform="translate(681.39,488.17) rotate(-90)" font-size="10.0" letter-spacing="0.15" text-anchor="middle" style="white-space:pre">Ni  3p</text>
<line x1="596" y1="112.2" x2="596" y2="150" stroke="#000" stroke-width="1"/>
<polygon points="596,150 594.00,145.00 598.00,145.00" fill="#000"/>
<line x1="610" y1="111.5" x2="618.1" y2="136" stroke="#000" stroke-width="1"/>
<polygon points="618.1,136 614.63,131.88 618.43,130.62" fill="#000"/>
<line x1="454.2" y1="336.1" x2="462.1" y2="355.1" stroke="#000" stroke-width="1"/>
<polygon points="462.1,355.1 458.33,351.25 462.03,349.72" fill="#000"/>
</svg></body></html>
